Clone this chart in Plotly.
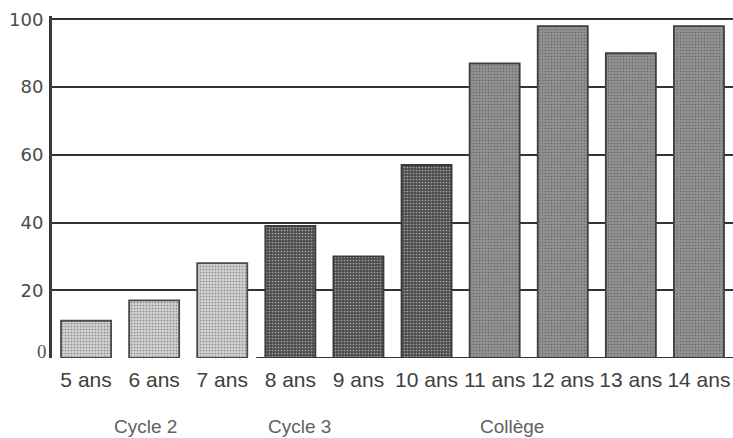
import plotly.graph_objects as go

ages = ["5 ans", "6 ans", "7 ans", "8 ans", "9 ans", "10 ans", "11 ans", "12 ans", "13 ans", "14 ans"]
values = [11, 17, 28, 39, 30, 57, 87, 98, 90, 98]
groups = ["Cycle 2", "Cycle 2", "Cycle 2", "Cycle 3", "Cycle 3", "Cycle 3",
          "Collège", "Collège", "Collège", "Collège"]
group_labels = ["Cycle 2", "Cycle 3", "Collège"]
group_label_pos = [0.88, 3.14, 6.26]
y_ticks = [20, 40, 60, 80, 100]

group_fill = {"Cycle 2": "#cfcfcf", "Cycle 3": "#4d4d4d", "Collège": "#929292"}
group_line = {"Cycle 2": "#4a4a4a", "Cycle 3": "#3a3a3a", "Collège": "#3f3f3f"}
group_dots = {"Cycle 2": "#b4b4b4", "Cycle 3": "#3a3a3a", "Collège": "#7e7e7e"}

fig = go.Figure()
fig.add_trace(go.Bar(
    x=ages, y=values,
    marker=dict(
        color=[group_fill[g] for g in groups],
        line=dict(color=[group_line[g] for g in groups], width=1.8),
        pattern=dict(shape=".", size=3, solidity=0.25,
                     fgcolor=[group_dots[g] for g in groups],
                     fillmode="overlay"),
    ),
    showlegend=False,
    hoverinfo="x+y",
))

# baseline under cycle 3 and collège
fig.add_shape(type="line", xref="x", yref="y", x0=2.5, x1=9.6, y0=0, y1=0,
              line=dict(color="#333333", width=2), layer="below")

# "0" label in serif
fig.add_annotation(text="0", xref="paper", yref="y", x=0, y=2, xanchor="right",
                   xshift=-3, yanchor="middle", showarrow=False,
                   font=dict(family="Liberation Serif, DejaVu Serif, serif", size=19, color="#555555"))

for lab, pos in zip(group_labels, group_label_pos):
    fig.add_annotation(text=lab, xref="x", yref="paper", x=pos, y=-0.2,
                       xanchor="center", yanchor="middle", showarrow=False,
                       font=dict(family="Liberation Sans, Arial, sans-serif", size=19, color="#616161"))

fig.update_layout(
    width=733, height=438,
    margin=dict(l=52, r=0, t=16, b=79.5),
    paper_bgcolor="white", plot_bgcolor="white",
    bargap=0.265,
    xaxis=dict(
        type="category",
        showgrid=False, showline=False, zeroline=False,
        ticks="", ticklabelstandoff=7,
        tickfont=dict(family="Liberation Sans, Arial, sans-serif", size=21, color="#404040"),
        range=[-0.5, 9.5],
    ),
    yaxis=dict(
        range=[0, 101],
        tickvals=y_ticks,
        ticktext=[str(v) for v in y_ticks],
        showgrid=True, gridcolor="#333333", gridwidth=2.2,
        zeroline=False,
        showline=True, linecolor="#3a3a3a", linewidth=3,
        ticks="", ticklabelstandoff=2,
        tickfont=dict(family="DejaVu Sans, sans-serif", size=18, color="#4a4a4a"),
    ),
)

fig.write_html("out.html",
               config={"displayModeBar": False},
               post_script="document.body.style.margin='0';document.body.style.overflow='hidden';")
